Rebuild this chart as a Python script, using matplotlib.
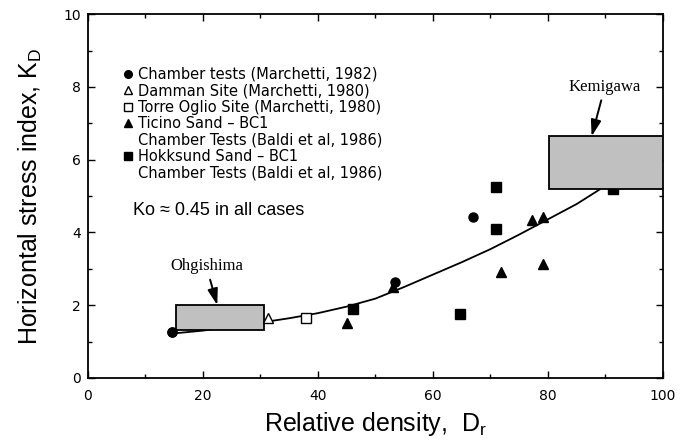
import matplotlib
matplotlib.use("Agg")
import matplotlib.pyplot as plt
from matplotlib.patches import Rectangle
from matplotlib.lines import Line2D

plt.rcParams['mathtext.fontset'] = 'custom'
plt.rcParams['mathtext.rm'] = 'Liberation Sans'
plt.rcParams['mathtext.it'] = 'Liberation Sans'

# data (Dr %, KD)
chamber_x = [14.7, 53.4, 67.0]
chamber_y = [1.27, 2.64, 4.42]
damman_x = [31.4]
damman_y = [1.64]
torre_x = [38.0]
torre_y = [1.65]
ticino_x = [45.0, 53.0, 71.9, 77.3, 79.2, 79.2]
ticino_y = [1.52, 2.50, 2.91, 4.35, 4.42, 3.14]
hokk_x = [46.1, 64.7, 70.9, 70.9, 91.4]
hokk_y = [1.89, 1.77, 5.24, 4.10, 5.20]

# trend curve
curve_x = [14.7, 20, 25, 30, 35, 40, 45, 50, 55, 60, 65, 70, 75, 80, 85, 89]
curve_y = [1.22, 1.30, 1.41, 1.52, 1.64, 1.78, 1.96, 2.18, 2.50, 2.84, 3.18, 3.54, 3.94, 4.36, 4.78, 5.18]

# site ranges: (Dr min, Dr max, KD min, KD max)
ohgi_box = (15.3, 30.7, 1.33, 2.0)
kemi_box = (80.1, 100.0, 5.18, 6.64)

fig = plt.figure(figsize=(6.92, 4.42), dpi=100)
ax = fig.add_axes([0.127, 0.145, 0.831, 0.823])

ax.plot(curve_x, curve_y, color='black', lw=1.3, zorder=2)
ax.plot(chamber_x, chamber_y, 'o', color='black', ms=6.5, zorder=5)
ax.plot(damman_x, damman_y, '^', mfc='white', mec='black', mew=1.0, ms=6.5, zorder=5)
ax.plot(torre_x, torre_y, 's', mfc='white', mec='black', mew=1.0, ms=6.5, zorder=5)
ax.plot(ticino_x, ticino_y, '^', color='black', ms=6.5, zorder=5)
ax.plot(hokk_x, hokk_y, 's', color='black', ms=6.5, zorder=3)

for b in [ohgi_box, kemi_box]:
    ax.add_patch(Rectangle((b[0], b[2]), b[1] - b[0], b[3] - b[2],
                           facecolor='#c0c0c0', edgecolor='black', lw=1.3, zorder=4))
ax.plot(chamber_x[:1], chamber_y[:1], 'o', color='black', ms=6.5, zorder=6)

arrow = dict(arrowstyle='-|>,head_width=0.22,head_length=0.7', color='black',
             lw=1.4, mutation_scale=14, shrinkA=2, shrinkB=0)
ax.annotate('Ohgishima', xy=(22.5, ohgi_box[3]), xytext=(20.6, 3.07),
            ha='center', va='center', family='Liberation Serif', fontsize=12,
            arrowprops=arrow, zorder=6)
ax.annotate('Kemigawa', xy=(87.6, kemi_box[3]), xytext=(89.9, 8.0),
            ha='center', va='center', family='Liberation Serif', fontsize=12,
            arrowprops=arrow, zorder=6)

# legend
empty = Line2D([], [], linestyle='none')
handles = [
    Line2D([], [], linestyle='none', marker='o', color='black', ms=5.5),
    Line2D([], [], linestyle='none', marker='^', mfc='white', mec='black', ms=5.5),
    Line2D([], [], linestyle='none', marker='s', mfc='white', mec='black', ms=5.5),
    Line2D([], [], linestyle='none', marker='^', color='black', ms=5.5),
    empty,
    Line2D([], [], linestyle='none', marker='s', color='black', ms=5.5),
    empty,
]
labels = [
    'Chamber tests (Marchetti, 1982)',
    'Damman Site (Marchetti, 1980)',
    'Torre Oglio Site (Marchetti, 1980)',
    'Ticino Sand \u2013 BC1',
    'Chamber Tests (Baldi et al, 1986)',
    'Hokksund Sand \u2013 BC1',
    'Chamber Tests (Baldi et al, 1986)',
]
ax.legend(handles, labels, loc='upper left', bbox_to_anchor=(0.062, 0.855),
          frameon=False, handlelength=0.6, handletextpad=0.4,
          labelspacing=0.1, borderpad=0, borderaxespad=0,
          prop={'family': 'DejaVu Sans', 'size': 10.5})

ax.text(7.9, 4.6, 'Ko \u2248 0.45 in all cases', family='Liberation Sans',
        fontsize=13, va='center', ha='left')

ax.set_xlim(0, 100)
ax.set_ylim(0, 10)
ax.set_xticks([0, 20, 40, 60, 80, 100])
ax.set_xticks([10, 30, 50, 70, 90], minor=True)
ax.set_yticks([0, 2, 4, 6, 8, 10])
ax.set_yticks([1, 3, 5, 7, 9], minor=True)
ax.tick_params(which='both', direction='in', top=True, right=True, labelsize=10)
ax.tick_params(axis='x', pad=8)
ax.tick_params(axis='y', pad=5)
ax.tick_params(which='major', length=5, width=1)
ax.tick_params(which='minor', length=3, width=1)
for s in ax.spines.values():
    s.set_linewidth(1.3)

ax.set_xlabel('Relative density,  D$_\\mathrm{r}$', family='Liberation Sans',
              fontsize=18, labelpad=5)
ax.set_ylabel('Horizontal stress index, K$_\\mathrm{D}$', family='Liberation Sans',
              fontsize=18, labelpad=14)

fig.savefig('out.png', dpi=100)
